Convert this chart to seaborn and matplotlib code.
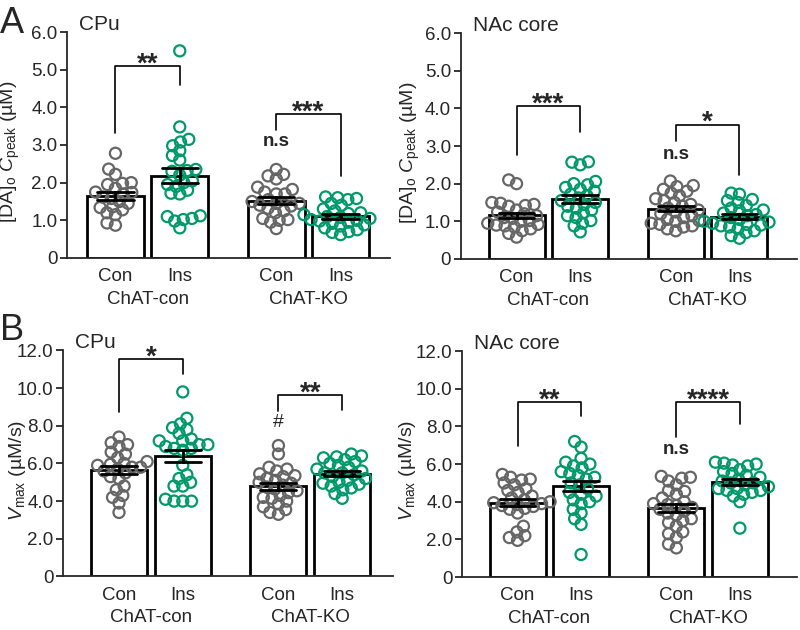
import numpy as np
import pandas as pd
import matplotlib
matplotlib.use('Agg')
import matplotlib.pyplot as plt
import seaborn as sns

# ---- data ----
genotypes = ['ChAT-con', 'ChAT-KO']
treatments = ['Con', 'Ins']

# [DA]o Cpeak, CPu
peak_cpu_con_con = [2.78, 2.36, 2.22, 2.0, 1.98, 1.95, 1.85, 1.75, 1.74, 1.70, 1.62,
                    1.58, 1.50, 1.45, 1.36, 1.34, 1.28, 1.20, 1.15, 0.93, 0.87]
peak_cpu_con_ins = [5.5, 3.48, 3.15, 3.08, 2.98, 2.85, 2.72, 2.6, 2.35, 2.32, 2.30, 2.2,
                    2.05, 2.0, 1.95, 1.9, 1.8, 1.72, 1.70, 1.12, 1.10, 1.05, 1.02, 0.98, 0.80]
peak_cpu_ko_con = [2.35, 2.22, 2.18, 2.1, 1.7, 1.88, 1.82, 1.75, 1.70, 1.45, 1.55, 1.50,
                   1.45, 1.40, 1.38, 1.32, 1.25, 1.20, 1.05, 1.02, 1.0, 0.95, 0.78]
peak_cpu_ko_ins = [1.62, 1.60, 1.58, 1.55, 1.45, 1.40, 1.30, 1.25, 1.20, 1.18, 1.15, 1.10, 1.08,
                   1.05, 1.02, 1.0, 0.98, 0.95, 0.92, 0.88, 0.85, 0.80, 0.75, 0.70, 0.68, 0.62]

# [DA]o Cpeak, NAc core
peak_nac_con_con = [2.1, 2.0, 1.5, 1.48, 1.45, 1.42, 1.40, 1.30, 1.25, 1.20, 1.15, 1.10,
                    1.08, 1.02, 1.0, 0.95, 0.92, 0.90, 0.88, 0.85, 0.80, 0.75, 0.68, 0.58]
peak_nac_con_ins = [2.58, 2.57, 2.50, 2.06, 2.0, 1.97, 1.90, 1.85, 1.80, 1.72, 1.68, 1.62, 1.55,
                    1.50, 1.45, 1.40, 1.35, 1.30, 1.22, 1.15, 1.10, 1.02, 0.95, 0.88, 0.72]
peak_nac_ko_con = [2.07, 1.95, 1.92, 1.85, 1.80, 1.75, 1.68, 1.60, 1.55, 1.50, 1.45, 1.40, 1.35,
                   1.30, 1.25, 1.20, 1.15, 1.10, 1.05, 1.02, 1.0, 0.95, 0.92, 0.88, 0.85, 0.80, 0.75]
peak_nac_ko_ins = [1.75, 1.72, 1.58, 1.55, 1.50, 1.42, 1.35, 1.30, 1.28, 1.22, 1.18, 1.15, 1.10,
                   1.05, 1.0, 0.98, 0.95, 0.92, 0.90, 0.88, 0.85, 0.80, 0.75, 0.70, 0.62, 0.55]

# Vmax, CPu
vmax_cpu_con_con = [7.4, 7.1, 7.0, 6.9, 6.6, 6.5, 6.3, 6.1, 6.0, 5.95, 5.9, 5.8,
                    5.8, 5.7, 5.6, 5.5, 5.3, 5.2, 4.8, 4.6, 4.3, 4.2, 3.9, 3.4]
vmax_cpu_con_ins = [9.8, 8.4, 8.1, 7.9, 7.8, 7.6, 7.3, 7.2, 7.2, 7.0, 7.0, 6.9, 6.8,
                    6.8, 6.7, 5.9, 5.4, 5.2, 5.0, 4.8, 4.8, 4.1, 4.0, 4.0, 4.0]
vmax_cpu_ko_con = [6.95, 6.5, 5.8, 5.7, 5.6, 5.45, 5.35, 5.3, 5.2, 5.1, 5.0, 4.95, 4.85,
                   4.75, 4.65, 4.55, 4.45, 4.3, 4.2, 4.15, 4.0, 3.85, 3.7, 3.55, 3.4, 3.3]
vmax_cpu_ko_ins = [6.5, 6.4, 6.35, 6.3, 6.2, 6.1, 6.0, 5.9, 5.8, 5.7, 5.6, 5.5, 5.5,
                   5.4, 5.3, 5.2, 5.1, 5.0, 4.95, 4.9, 4.8, 4.7, 4.6, 4.4, 4.15]

# Vmax, NAc core
vmax_nac_con_con = [5.45, 5.3, 5.2, 5.15, 5.0, 4.9, 4.7, 4.6, 4.5, 4.3, 4.2, 4.1, 4.0,
                    3.95, 3.9, 3.85, 3.8, 3.75, 3.65, 3.6, 3.4, 2.7, 2.4, 2.2, 2.1, 1.95]
vmax_nac_con_ins = [7.2, 6.9, 6.3, 6.1, 6.0, 5.9, 5.8, 5.6, 5.5, 5.4, 5.3, 5.2, 5.0,
                    4.9, 4.7, 4.5, 4.4, 4.3, 4.1, 4.0, 3.9, 3.6, 3.4, 3.1, 2.8, 1.2]
vmax_nac_ko_con = [5.35, 5.3, 5.25, 5.1, 4.9, 4.6, 4.55, 4.4, 4.2, 4.0, 3.9, 3.85, 3.8, 3.7,
                   3.6, 3.5, 3.4, 3.3, 3.1, 3.0, 2.9, 2.7, 2.4, 2.3, 2.1, 1.75, 1.55]
vmax_nac_ko_ins = [6.1, 6.05, 6.0, 5.95, 5.9, 5.7, 5.6, 5.5, 5.4, 5.3, 5.2, 5.1, 5.0,
                   5.0, 4.9, 4.8, 4.7, 4.7, 4.6, 4.6, 4.5, 4.4, 4.3, 4.0, 2.6]

gray = '#666666'
green = '#009a6a'


def long_table(con_con, con_ins, ko_con, ko_ins):
    rows = []
    for geno, treat, vals in [('ChAT-con', 'Con', con_con), ('ChAT-con', 'Ins', con_ins),
                              ('ChAT-KO', 'Con', ko_con), ('ChAT-KO', 'Ins', ko_ins)]:
        for v in vals:
            rows.append((geno, treat, v))
    return pd.DataFrame(rows, columns=['genotype', 'treatment', 'value'])


sns.set_style('ticks')
plt.rcParams['font.family'] = ['Liberation Sans', 'DejaVu Sans']
plt.rcParams['mathtext.fontset'] = 'custom'
plt.rcParams['mathtext.rm'] = 'Liberation Sans'
plt.rcParams['mathtext.it'] = 'Liberation Sans:italic'
plt.rcParams['mathtext.bf'] = 'Liberation Sans:bold'

fig = plt.figure(figsize=(8, 6.3), dpi=100)

peak_label = '[DA]$_\\mathrm{o}$ $C_\\mathrm{peak}$ (µM)'
vmax_label = '$V_\\mathrm{max}$ (µM/s)'

panels = [
    dict(rect=[0.084, 0.5905, 0.404, 0.3587], xlim=(-0.5, 1.51), title='CPu',
         data=long_table(peak_cpu_con_con, peak_cpu_con_ins, peak_cpu_ko_con, peak_cpu_ko_ins),
         ymax=6, ystep=1, ylabel=peak_label, labx=-0.14,
         brackets=[(-0.2, 0.2, 5.09, 3.32, 4.58, '**'), (0.8, 1.2, 3.81, 3.39, 2.19, '***')],
         marks=[(0.8, 3.08, 'n.s')]),
    dict(rect=[0.576, 0.5889, 0.42, 0.3587], xlim=(-0.55, 1.56), title='NAc core',
         data=long_table(peak_nac_con_con, peak_nac_con_ins, peak_nac_ko_con, peak_nac_ko_ins),
         ymax=6, ystep=1, ylabel=peak_label, labx=-0.116,
         brackets=[(-0.2, 0.2, 4.07, 2.77, 3.36, '***'), (0.8, 1.2, 3.57, 3.12, 2.24, '*')],
         marks=[(0.8, 2.77, 'n.s')]),
    dict(rect=[0.079, 0.085, 0.4125, 0.3587], xlim=(-0.55, 1.52), title='CPu',
         data=long_table(vmax_cpu_con_con, vmax_cpu_con_ins, vmax_cpu_ko_con, vmax_cpu_ko_ins),
         ymax=12, ystep=2, ylabel=vmax_label, labx=-0.106,
         brackets=[(-0.2, 0.2, 11.56, 8.73, 10.76, '*'), (0.8, 1.2, 9.65, 8.81, 8.85, '**')],
         marks=[(0.8, 8.2, '#')]),
    dict(rect=[0.5775, 0.084, 0.41875, 0.3587], xlim=(-0.55, 1.56), title='NAc core',
         data=long_table(vmax_nac_con_con, vmax_nac_con_ins, vmax_nac_ko_con, vmax_nac_ko_ins),
         ymax=12, ystep=2, ylabel=vmax_label, labx=-0.13,
         brackets=[(-0.2, 0.2, 9.28, 6.95, 8.54, '**'), (0.8, 1.2, 9.28, 7.43, 8.13, '****')],
         marks=[(0.8, 6.78, 'n.s')]),
]

axes = []
for p in panels:
    ax = fig.add_axes(p['rect'])
    axes.append(ax)
    df = p['data']
    sns.barplot(data=df, x='genotype', y='value', hue='treatment', order=genotypes,
                hue_order=treatments, palette=['white', 'white'], saturation=1,
                edgecolor='black', linewidth=2, width=0.8, gap=0.12,
                errorbar='se', capsize=0.45,
                err_kws={'color': 'black', 'linewidth': 2, 'zorder': 4},
                legend=False, ax=ax)
    sns.swarmplot(data=df, x='genotype', y='value', hue='treatment', order=genotypes,
                  hue_order=treatments, palette=[gray, green], dodge=True,
                  size=5.5, linewidth=0.5, legend=False, zorder=3, ax=ax)

    ax.set_xlim(*p['xlim'])
    ax.set_ylim(0, p['ymax'])
    yt = np.arange(0, p['ymax'] + p['ystep'] / 2, p['ystep'])
    ax.set_yticks(yt, labels=['0' if v == 0 else f'{v:.1f}' for v in yt])
    ax.set_xticks([-0.2, 0.2, 0.8, 1.2], labels=treatments * 2)
    ax.set_xticks([0, 1], labels=genotypes, minor=True)
    ax.tick_params(axis='x', which='both', length=0, labelsize=13.5, pad=7.5)
    ax.tick_params(axis='x', which='minor', pad=23.5)
    ax.tick_params(axis='y', length=5, width=1.3, labelsize=13.5, pad=2)
    ax.set_xlabel('')
    ax.set_ylabel(p['ylabel'], fontsize=14)
    ax.yaxis.set_label_coords(p['labx'], 0.47)
    sns.despine(ax=ax)
    for s in ['left', 'bottom']:
        ax.spines[s].set_linewidth(1.3)

    ax.text(0.035, 1.035, p['title'], transform=ax.transAxes, fontsize=15, va='center')

    for x1, x2, ytop, yl, yr, stars in p['brackets']:
        ax.plot([x1, x1, x2, x2], [yl, ytop, ytop, yr], color='black', lw=1.2,
                clip_on=False)
        ax.annotate(stars, ((x1 + x2) / 2, ytop), xytext=(0, -4),
                    textcoords='offset points', ha='center', va='baseline',
                    fontsize=20, fontweight='bold', annotation_clip=False)
    for x, y, txt in p['marks']:
        if txt == '#':
            ax.text(x, y, txt, ha='center', va='center', fontsize=14)
        else:
            ax.text(x, y, txt, ha='center', va='center', fontsize=13.5, fontweight='bold')

fig.text(0.0, 0.99, 'A', fontsize=26, va='top', ha='left')
fig.text(0.0, 0.503, 'B', fontsize=26, va='top', ha='left')

# lay out the swarms with small markers, then draw them as larger open circles
fig.canvas.draw()
for ax in axes:
    for c in ax.collections:
        if 'draw' in vars(c):
            del c.draw
        rgba = c.get_facecolor()
        c.set_facecolor('none')
        c.set_edgecolor(rgba)
        c.set_sizes([8 ** 2])
        c.set_linewidth(1.6)

fig.savefig('out.png', dpi=100)
